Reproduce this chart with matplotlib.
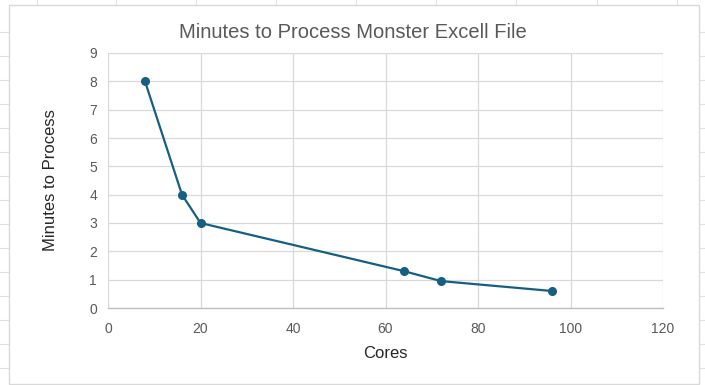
import matplotlib
matplotlib.use("Agg")
from matplotlib import pyplot as plt
from matplotlib.lines import Line2D
from matplotlib.patches import Rectangle

# data
cores = [8, 16, 20, 64, 72, 96]
minutes = [8, 4, 3, 1.3, 0.95, 0.6]
x_ticks = [0, 20, 40, 60, 80, 100, 120]
y_ticks = [0, 1, 2, 3, 4, 5, 6, 7, 8, 9]

W, H = 705, 385
LINE = "#156082"
GRID = "#d9d9d9"
TXT = "#595959"

plt.rcParams['font.family'] = ['Liberation Sans Narrow', 'Liberation Sans', 'DejaVu Sans']

fig = plt.figure(figsize=(W / 100, H / 100), dpi=100)
fig.patch.set_facecolor("white")

def fx(px):
    return px / W

def fy(py):
    return 1 - py / H

## spreadsheet cells behind the chart
for yy in [31.7, 55.7, 79.5, 103.7, 127.5, 151.5, 175.5, 199.5, 223.5, 247.5, 271.5, 295.5, 319.5, 343.5, 367.5]:
    fig.add_artist(Line2D([0, fx(8)], [fy(yy), fy(yy)], color="#e1e1e1", lw=0.8, zorder=-2))
    fig.add_artist(Line2D([fx(699), 1], [fy(yy), fy(yy)], color="#e1e1e1", lw=0.8, zorder=-2))
for xx in [37, 116, 196, 276, 356, 436, 516, 597, 677]:
    fig.add_artist(Line2D([fx(xx), fx(xx)], [fy(0), fy(5.5)], color="#e1e1e1", lw=0.8, zorder=-2))

# chart frame
fig.add_artist(Rectangle((fx(8.5), fy(383.5)), fx(699) - fx(8.5), fy(5.5) - fy(383.5),
                         transform=fig.transFigure, facecolor="white", edgecolor=GRID, lw=1.0, zorder=-1))

ax = fig.add_axes([fx(108), fy(308), fx(663) - fx(108), fy(53) - fy(308)])
ax.set_zorder(2)
ax.set_facecolor("white")
ax.plot(cores, minutes, color=LINE, lw=1.6, marker="o", ms=5.5, zorder=3)

ax.set_xlim(0, 120)
ax.set_ylim(0, 9)
ax.set_xticks(x_ticks)
ax.set_yticks(y_ticks)
ax.grid(True, color=GRID, lw=0.9)
ax.set_axisbelow(True)
for s in ["top", "right", "left"]:
    ax.spines[s].set_visible(False)
ax.spines["bottom"].set_color("#bfbfbf")
ax.spines["bottom"].set_linewidth(1.0)
ax.tick_params(length=0, labelsize=10, colors=TXT, pad=8)
ax.tick_params(axis="x", pad=10)

ax.set_xlabel("Cores", fontsize=12, color="#262626", labelpad=7)
ax.set_ylabel("Minutes to Process", fontsize=12, color="#262626", labelpad=22)

fig.text(fx(353), fy(32), "Minutes to Process Monster Excell File", fontsize=14.5, color=TXT,
         ha="center", va="center", zorder=3)

fig.savefig("out.png", dpi=100)
